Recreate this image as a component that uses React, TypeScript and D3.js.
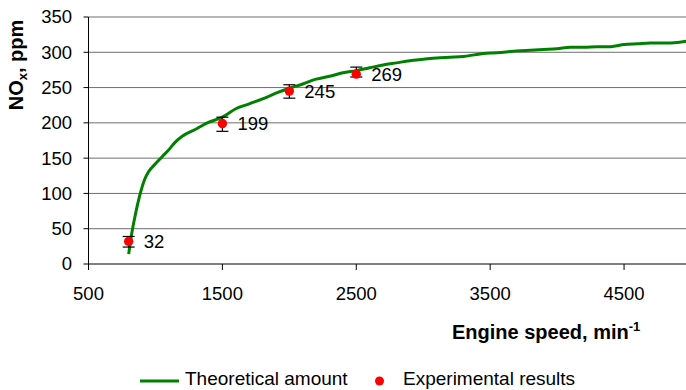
import React from "react";
import * as d3 from "d3";

// Theoretical NOx curve (engine speed in min^-1, NOx in ppm)
const theorySpeed = [800, 820, 850, 880, 920, 950, 1000, 1050, 1100, 1150, 1200, 1300, 1400, 1500, 1600, 1700, 1800, 1900, 2000, 2100, 2200, 2300, 2400, 2500, 2600, 2700, 2800, 2900, 3000, 3100, 3200, 3300, 3400, 3500, 3600, 3700, 3800, 3900, 4000, 4100, 4200, 4300, 4400, 4500, 4600, 4700, 4800, 4900, 4980];
const theoryNox = [14, 40, 70, 95, 120, 131, 142, 152, 162, 173, 181, 191, 201, 208, 220, 227, 234, 242, 249, 255, 262, 266, 271, 274, 278, 282, 285, 288, 290, 292, 293, 294, 297, 299, 300, 302, 303, 304, 305, 307, 307, 308, 308, 311, 312, 313, 313, 314, 316];

// Measured points with error bar bounds
const expSpeed = [800, 1500, 2000, 2500];
const expNox = [32, 199, 245, 269];
const expLow = [24, 188, 235, 265];
const expHigh = [39, 208, 254, 279];

const xTicks = [500, 1500, 2500, 3500, 4500];
const yTicks = [0, 50, 100, 150, 200, 250, 300, 350];

const W = 686;
const H = 390;
const FONT = "Liberation Sans, Arial, sans-serif";

export default function App() {
  const x = d3.scaleLinear().domain([500, 5000]).range([88.5, 691]);
  const y = d3.scaleLinear().domain([0, 350]).range([264, 17]);

  const line = d3
    .line<number>()
    .x((_, i) => x(theorySpeed[i]))
    .y((d) => y(d))
    .curve(d3.curveMonotoneX);

  return (
    <svg
      width={W}
      height={H}
      style={{ position: "absolute", left: 0, top: 0, background: "#fff" }}
      fontFamily={FONT}
    >
      {/* horizontal gridlines */}
      {yTicks.filter((t) => t > 0).map((t) => (
        <line key={`g${t}`} x1={x(500)} x2={W} y1={y(t)} y2={y(t)} stroke="#6e6e6e" strokeWidth={1} />
      ))}

      {/* y axis */}
      <line x1={x(500)} x2={x(500)} y1={y(350)} y2={y(0) + 6} stroke="#000" />
      {yTicks.map((t) => (
        <g key={`y${t}`}>
          <line x1={x(500) - 5} x2={x(500)} y1={y(t)} y2={y(t)} stroke="#000" />
          <text x={72} y={y(t)} dy="0.35em" textAnchor="end" fontSize={18.5} fill="#000">
            {t}
          </text>
        </g>
      ))}

      {/* x axis */}
      <line x1={x(500)} x2={W} y1={y(0)} y2={y(0)} stroke="#000" />
      {xTicks.map((t) => (
        <g key={`x${t}`}>
          <line x1={x(t)} x2={x(t)} y1={y(0)} y2={y(0) + 6} stroke="#000" />
          <text x={x(t)} y={300} textAnchor="middle" fontSize={18.5} fill="#000">
            {t}
          </text>
        </g>
      ))}

      {/* theoretical curve */}
      <path d={line(theoryNox) ?? ""} fill="none" stroke="#008000" strokeWidth={3} strokeLinejoin="round" />

      {/* experimental points with error bars and labels */}
      {expSpeed.map((s, i) => {
        const cx = x(s);
        return (
          <g key={`e${s}`}>
            <line x1={cx} x2={cx} y1={y(expLow[i])} y2={y(expHigh[i])} stroke="#000" strokeWidth={1.2} />
            <line x1={cx - 6} x2={cx + 6} y1={y(expLow[i])} y2={y(expLow[i])} stroke="#000" strokeWidth={1.2} />
            <line x1={cx - 6} x2={cx + 6} y1={y(expHigh[i])} y2={y(expHigh[i])} stroke="#000" strokeWidth={1.2} />
            <circle cx={cx} cy={y(expNox[i])} r={4.7} fill="#ff0000" />
            <text x={cx + 15} y={y(expNox[i])} dy="0.35em" fontSize={18.5} fill="#000">
              {expNox[i]}
            </text>
          </g>
        );
      })}

      {/* axis titles */}
      <text x={452} y={339} fontSize={20} fontWeight="bold" fill="#000">
        Engine speed, min
        <tspan fontSize={13} dy={-8}>-1</tspan>
      </text>
      <text
        transform={`translate(23,65) rotate(-90)`}
        textAnchor="middle"
        fontSize={20}
        fontWeight="bold"
        fill="#000"
      >
        NO
        <tspan fontSize={13} dy={4}>x</tspan>
        <tspan dy={-4}>, ppm</tspan>
      </text>

      {/* legend */}
      <line x1={140} x2={179} y1={381} y2={381} stroke="#008000" strokeWidth={3} />
      <text x={185} y={385} fontSize={19} fill="#000">
        Theoretical amount
      </text>
      <circle cx={379.5} cy={381} r={4.5} fill="#ff0000" />
      <text x={403} y={385} fontSize={19} fill="#000">
        Experimental results
      </text>
    </svg>
  );
}
